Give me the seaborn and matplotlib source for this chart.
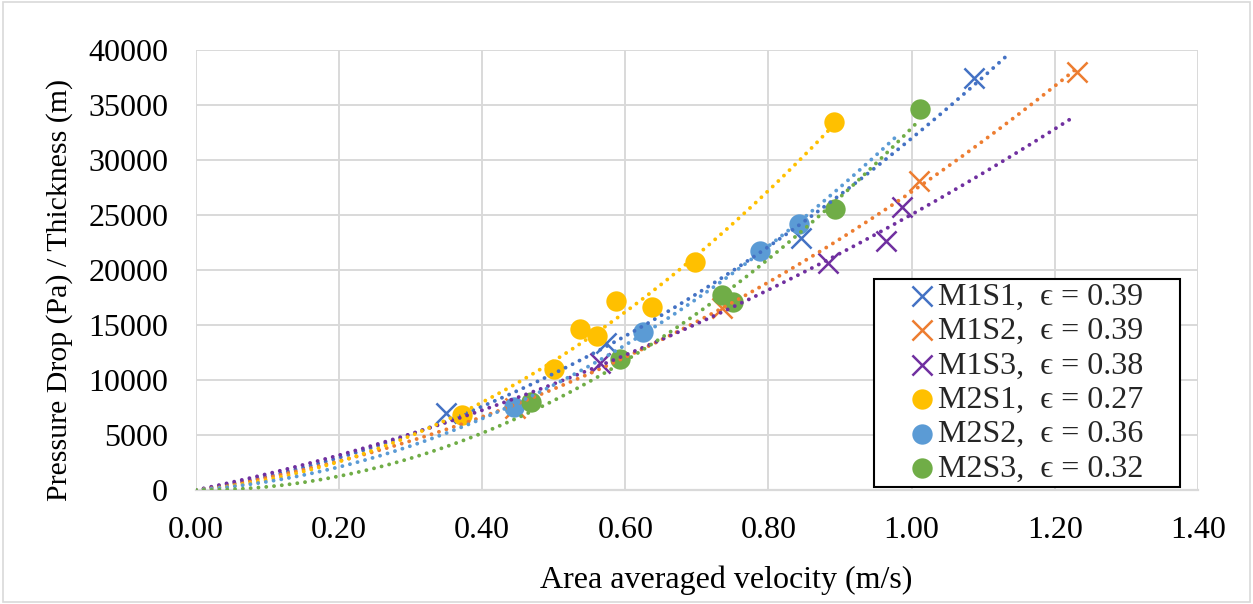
import numpy as np
import pandas as pd
import seaborn as sns
import matplotlib.pyplot as plt
from matplotlib.patches import Rectangle
from matplotlib.ticker import FormatStrFormatter
from matplotlib.collections import PathCollection
from matplotlib.legend_handler import HandlerPathCollection

# ---------------- data ----------------
series_names = ["M1S1", "M1S2", "M1S3", "M2S1", "M2S2", "M2S3"]
porosity = ["0.39", "0.39", "0.38", "0.27", "0.36", "0.32"]

m1s1_x = [0.350, 0.573, 0.845, 1.087]
m1s1_y = [6970, 13340, 22880, 37430]

m1s2_x = [0.446, 0.735, 1.011, 1.231]
m1s2_y = [7450, 16520, 28120, 38030]

m1s3_x = [0.564, 0.883, 0.964, 0.986]
m1s3_y = [11520, 20600, 22670, 25760]

m2s1_x = [0.372, 0.500, 0.537, 0.560, 0.587, 0.637, 0.698, 0.892]
m2s1_y = [6820, 10970, 14640, 14030, 17180, 16670, 20700, 33480]

m2s2_x = [0.444, 0.624, 0.788, 0.843]
m2s2_y = [7570, 14330, 21760, 24180]

m2s3_x = [0.468, 0.592, 0.735, 0.751, 0.893, 1.012]
m2s3_y = [7970, 11910, 17730, 17120, 25550, 34610]

# extent of each (polynomial, zero-intercept) trendline along x
trend_end = [1.134, 1.235, 1.229, 0.892, 0.980, 1.012]

x_ticks = [0.0, 0.2, 0.4, 0.6, 0.8, 1.0, 1.2, 1.4]
y_ticks = [0, 5000, 10000, 15000, 20000, 25000, 30000, 35000, 40000]

# ---------------- style ----------------
colors = ["#4472C4", "#ED7D31", "#7030A0", "#FFC000", "#5B9BD5", "#70AD47"]
markers = ["x", "x", "x", "o", "o", "o"]

sns.set_theme(style="white")
plt.rcParams["font.family"] = ["Liberation Serif", "DejaVu Serif"]
FS = 23

fig, ax = plt.subplots(figsize=(12.53, 6.04), dpi=100)
fig.subplots_adjust(left=0.1564, right=0.956, bottom=0.1887, top=0.9172)
fig.patches.append(Rectangle((0.002, 0.003), 0.996, 0.994, transform=fig.transFigure,
                             fill=False, edgecolor="#D9D9D9", linewidth=1.2))

xs_all = [m1s1_x, m1s2_x, m1s3_x, m2s1_x, m2s2_x, m2s3_x]
ys_all = [m1s1_y, m1s2_y, m1s3_y, m2s1_y, m2s2_y, m2s3_y]

for name, eps, xv, yv, col, mk, xe in zip(series_names, porosity, xs_all, ys_all,
                                           colors, markers, trend_end):
    df = pd.DataFrame({"x": xv, "y": yv})
    label = f"{name},  \u03f5 = {eps}"
    if mk == "x":
        sns.scatterplot(data=df, x="x", y="y", marker="x", s=210, color=col,
                        linewidth=1.8, ax=ax, label=label, zorder=3)
    else:
        sns.scatterplot(data=df, x="x", y="y", marker="o", s=215, color=col,
                        linewidth=0, ax=ax, label=label, zorder=3)
    # zero-intercept second-order polynomial trendline
    X = np.column_stack([df["x"], df["x"] ** 2])
    coef, *_ = np.linalg.lstsq(X, df["y"].to_numpy(), rcond=None)
    tx = np.linspace(0, xe, 300)
    ty = coef[0] * tx + coef[1] * tx ** 2
    sns.lineplot(x=tx, y=ty, color=col, linewidth=2.8, linestyle=(0, (0.01, 2.0)),
                 dash_capstyle="round", ax=ax, legend=False, zorder=4,
                 sort=False, estimator=None)

ax.set_xlim(0, 1.4)
ax.set_ylim(0, 40000)
ax.set_xticks(x_ticks)
ax.set_yticks(y_ticks)
ax.xaxis.set_major_formatter(FormatStrFormatter("%.2f"))
ax.grid(True, color="#D9D9D9", linewidth=1.4)
ax.set_axisbelow(True)
for s in ["top", "right", "left"]:
    ax.spines[s].set_visible(False)
ax.spines["bottom"].set_color("#D9D9D9")
ax.spines["bottom"].set_linewidth(1.6)
ax.tick_params(axis="both", length=0, labelsize=FS, colors="black")
ax.tick_params(axis="y", pad=20)
ax.tick_params(axis="x", pad=19)

ax.set_xlabel("Area averaged velocity (m/s)", fontsize=FS, color="black")
ax.set_ylabel("Pressure Drop (Pa) / Thickness (m)", fontsize=21.5, color="black")
ax.xaxis.set_label_coords(0.529, -0.172)
ax.yaxis.set_label_coords(-0.123, 0.455)

handles, labels = ax.get_legend_handles_labels()
leg = ax.legend(handles, labels, loc="lower left",
                bbox_to_anchor=(0.6766, 0.007, 0.3054, 0.47), mode="expand",
                fontsize=FS, frameon=True, fancybox=False, edgecolor="black",
                framealpha=1, borderpad=0.1, labelspacing=0.16,
                handletextpad=0.15, handlelength=1.75, markerscale=1.0,
                borderaxespad=0,
                handler_map={PathCollection: HandlerPathCollection(xpad=1.05)})
leg.get_frame().set_linewidth(1.5)

fig.savefig("out.png", dpi=100)
